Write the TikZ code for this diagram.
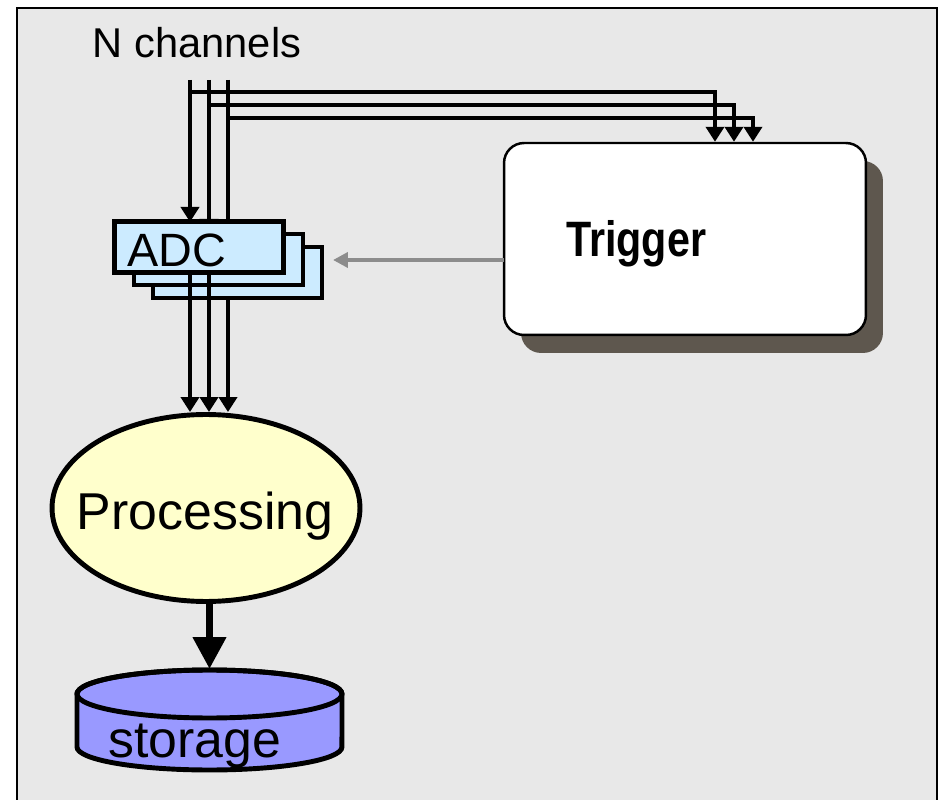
\documentclass[tikz,border=0pt]{standalone}
\usepackage{fontspec}
\setmainfont{Liberation Sans}
\usetikzlibrary{arrows.meta,shapes.geometric,shadows}
\definecolor{panel}{HTML}{E8E8E8}
\definecolor{adcblue}{HTML}{CCEBFF}
\definecolor{procyellow}{HTML}{FFFFCC}
\definecolor{storeblue}{HTML}{9999FF}
\definecolor{trigshadow}{HTML}{5E574E}
\definecolor{ctrlgray}{HTML}{8C8C8C}
\tikzset{>=Triangle}
\tikzset{
  chan/.style={line width=2.8pt,-{Triangle[length=0.3cm,width=0.36cm]}},
  ctrl/.style={line width=2.2pt,ctrlgray,-{Triangle[length=0.3cm,width=0.3cm]}},
  bigarrow/.style={line width=4.2pt,-{Triangle[length=0.64cm,width=0.64cm]}},
  adcbox/.style={draw,line width=2.8pt,fill=adcblue,minimum width=3.38cm,
    minimum height=1.02cm,inner sep=0pt},
  trigbox/.style={draw,line width=1.4pt,fill=white,rounded corners=0.4cm,
    minimum width=7.24cm,minimum height=3.84cm,
    drop shadow={shadow xshift=0.34cm,shadow yshift=-0.36cm,fill=trigshadow,opacity=1}},
  procnode/.style={draw,ellipse,line width=2.8pt,fill=procyellow,
    minimum width=6.16cm,minimum height=3.74cm,inner sep=0pt}
}

\begin{document}
\begin{tikzpicture}[x=0.02cm,y=-0.02cm]
    \useasboundingbox (0,0) rectangle (944,800);
    \fill[panel] (17,8) rectangle (937,800);
    \draw[line width=1.2pt] (17,800) -- (17,8) -- (937,8) -- (937,800);
    % input channels
    \node[anchor=base,font=\fontsize{23.7}{26}\selectfont] (nch) at (197,58) {N channels};
    \coordinate (ch1) at (190,80);
    \coordinate (ch2) at (209,80);
    \coordinate (ch3) at (228,80);
    % trigger
    \node[trigbox] (trig) at (685,239) {};
    \node[anchor=base west,font=\fontsize{28.3}{30}\selectfont\bfseries] (trigtxt) at (560,257)
        {\scalebox{0.83}[1]{Trigger}};
    \draw[chan] (190,92) -| (trig.north -| 715,0);
    \draw[chan] (209,105) -| (trig.north -| 734,0);
    \draw[chan] (228,118) -| (trig.north -| 753,0);
    % ADC stack
    \coordinate (adcin1) at (190,222);
    \coordinate (adcin2) at (209,234);
    \coordinate (adcin3) at (228,247);
    \draw[chan] (ch1) -- (adcin1);
    \draw[chan] (ch2) -- (adcin2);
    \draw[chan] (ch3) -- (adcin3);
    \node[adcbox] (adcC) at (237.5,272.5) {};
    \node[adcbox] (adcB) at (218.5,259.5) {};
    \node[adcbox] (adcA) at (199,247) {};
    \node[anchor=base west,inner sep=0pt,font=\fontsize{26.6}{28}\selectfont] (adctxt) at (127,267) {ADC};
    \coordinate (trigout) at (504,260);
    \draw[ctrl] (trigout) -- (333,260);
    % processing
    \node[procnode] (proc) at (206,508) {};
    \node[anchor=base,inner sep=0pt,font=\fontsize{29.5}{32}\selectfont] (proctxt) at (205,530) {Processing};
    \draw[chan] (ch1 |- adcA.south) -- (ch1 |- proc.north);
    \draw[chan] (ch2 |- adcA.south) -- (ch2 |- proc.north);
    \draw[chan] (ch3 |- adcC.south) -- (ch3 |- proc.north);
    % storage
    \filldraw[fill=storeblue,line width=2.8pt] (77,694) -- (77,747)
        arc[start angle=180,end angle=360,x radius=2.65cm,y radius=0.46cm]
        -- (342,694) arc[start angle=0,end angle=180,x radius=2.65cm,y radius=0.48cm] -- cycle;
    \draw[line width=2.8pt] (209.5,694) ellipse[x radius=2.65cm,y radius=0.48cm];
    \coordinate (store) at (209.5,669);
    \node[anchor=base west,inner sep=0pt,font=\fontsize{29.5}{32}\selectfont] (storetxt) at (108,757) {storage};
    \draw[bigarrow] (proc.south -| store) -- (store);
\end{tikzpicture}
\end{document}
